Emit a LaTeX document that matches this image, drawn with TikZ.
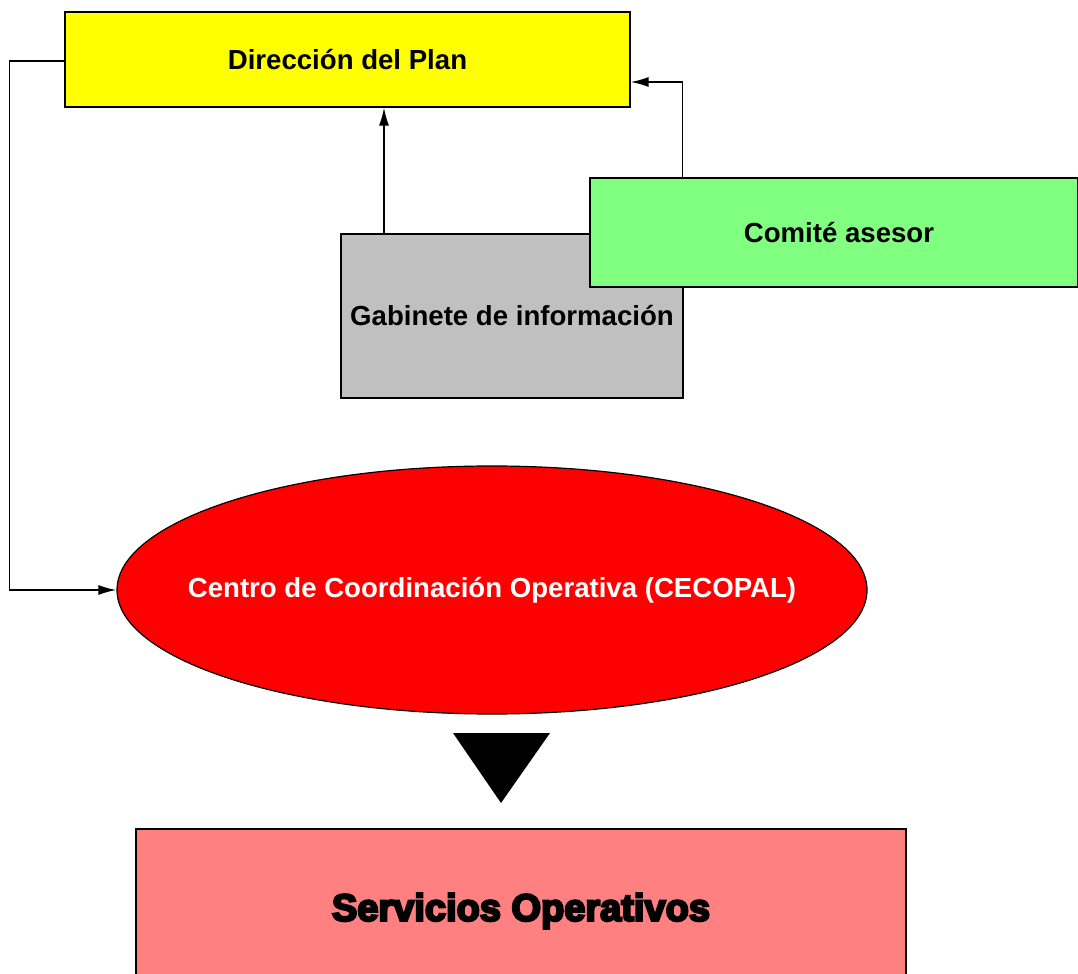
\documentclass[tikz,border=0pt]{standalone}
\usepackage{fontspec}
\setmainfont{Liberation Sans}
\newfontfamily\heavyfont[FakeBold=6]{Liberation Sans Bold}
\usepackage{tikz}
\usetikzlibrary{positioning, arrows, arrows.meta, shapes}
\definecolor{planyellow}{HTML}{FFFF00}
\definecolor{comitegreen}{HTML}{80FF80}
\definecolor{gabinetegray}{HTML}{C0C0C0}
\definecolor{cecopalred}{HTML}{FF0000}
\definecolor{serviciospink}{HTML}{FF8080}
\tikzset{
    >={Latex[length=9pt,width=5pt]}, % filled arrow heads
    x=0.5pt, y=-0.5pt, % one unit is one pixel of the original
    every node/.style={font=\fontsize{13.8}{16}\selectfont\bfseries},
    box/.style={draw, rectangle, line width=0.6pt, inner sep=0pt}, % the plain boxes
    link/.style={->, line width=0.75pt}, % connectors between boxes
}
\begin{document}
\begin{tikzpicture}
            \useasboundingbox (0,0) rectangle (1078,974);
            \node[box, fill=planyellow, minimum width=282.5pt, minimum height=47.5pt] (dir) at (347.5,59.5) {Dirección del Plan};
            \node[box, fill=gabinetegray, minimum width=171pt, minimum height=82pt] (gab) at (512,316) {Gabinete de información};
            \node[box, fill=comitegreen, minimum width=244pt, minimum height=54.5pt] (com) at (834,232.5) {\hspace*{5pt}Comité asesor};
            \node[draw, ellipse, fill=cecopalred, text=white, line width=0.6pt, inner sep=0pt, minimum width=375pt, minimum height=124pt] (cec) at (492,590) {\makebox[0pt]{Centro de Coordinación Operativa (CECOPAL)}};
            \node[box, fill=serviciospink, minimum width=385pt, minimum height=82pt, font=\fontsize{19}{22}\selectfont\heavyfont] (serv) at (521,911) {Servicios Operativos};

            % big arrow head between the centre and the services
            \fill (453,733) -- (550,733) -- (501,803) -- cycle;

            \draw[link] ([xshift=-64pt]gab.north) -- ([xshift=-64pt]gab.north |- dir.south);
            \draw[link] ([xshift=46.5pt]com.north west) |- ([yshift=-11.25pt]dir.east);
            \draw[link] ([yshift=-0.75pt]dir.west) -- ++(-27.5pt,0) |- (cec.west);
        \end{tikzpicture}
\end{document}
